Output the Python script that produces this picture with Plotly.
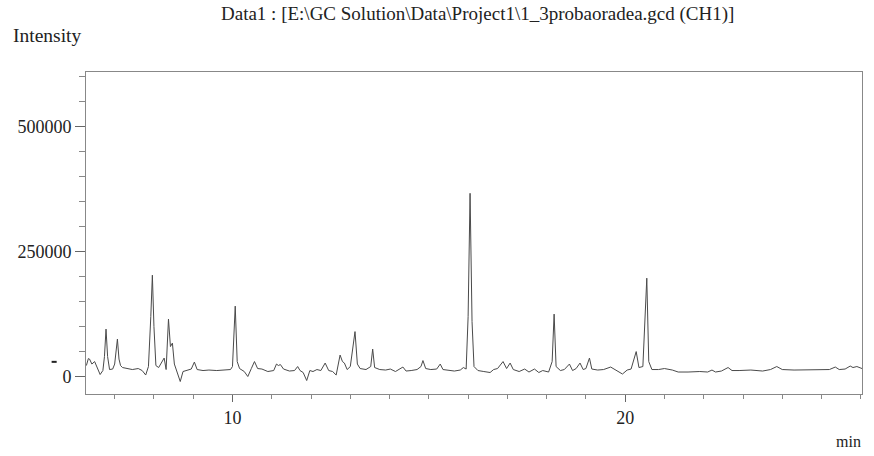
import plotly.graph_objects as go

# Retention time (min) and detector intensity
time_min = [6.28, 6.33, 6.36, 6.42, 6.49, 6.55, 6.63, 6.70, 6.74, 6.78, 6.82, 6.87, 6.95, 7.00, 7.07, 7.11,
            7.15, 7.20, 7.30, 7.45, 7.60, 7.70, 7.79, 7.86, 7.92, 7.96, 8.00, 8.05, 8.12, 8.20, 8.26, 8.31,
            8.37, 8.42, 8.47, 8.52, 8.60, 8.67, 8.74, 8.85, 8.95, 9.03, 9.10, 9.25, 9.40, 9.60, 9.80, 9.95,
            10.00, 10.07, 10.12, 10.18, 10.30, 10.39, 10.48, 10.56, 10.64, 10.75, 10.90, 11.05, 11.12, 11.17,
            11.22, 11.30, 11.45, 11.58, 11.66, 11.72, 11.80, 11.89, 11.97, 12.05, 12.15, 12.25, 12.36, 12.45,
            12.55, 12.64, 12.74, 12.80, 12.85, 12.92, 13.00, 13.12, 13.18, 13.25, 13.40, 13.52, 13.57, 13.62,
            13.75, 13.90, 14.02, 14.15, 14.34, 14.42, 14.55, 14.70, 14.80, 14.85, 14.92, 15.05, 15.20, 15.29,
            15.36, 15.50, 15.65, 15.80, 15.88, 15.95, 16.00, 16.05, 16.10, 16.15, 16.25, 16.40, 16.56, 16.65,
            16.75, 16.89, 16.98, 17.07, 17.15, 17.30, 17.44, 17.55, 17.69, 17.80, 17.90, 18.05, 18.14, 18.19,
            18.24, 18.35, 18.45, 18.58, 18.66, 18.75, 18.85, 18.93, 19.00, 19.09, 19.15, 19.30, 19.45, 19.63,
            19.75, 19.93, 20.05, 20.15, 20.28, 20.35, 20.45, 20.55, 20.60, 20.68, 20.85, 21.00, 21.20, 21.35,
            21.60, 21.90, 22.10, 22.21, 22.30, 22.45, 22.62, 22.72, 22.90, 23.20, 23.50, 23.70, 23.86, 24.00,
            24.30, 24.70, 25.00, 25.20, 25.35, 25.45, 25.60, 25.73, 25.80, 25.90, 26.03]

intensity = [22000, 36000, 35000, 25000, 30000, 20000, 4000, 12000, 40000, 95000, 40000, 14000, 15000, 25000, 75000, 35000,
             22000, 18000, 16000, 14000, 16000, 12000, 3000, 20000, 120000, 203000, 100000, 22000, 18000, 30000, 37000, 14000,
             115000, 60000, 67000, 25000, 5000, -10000, 10000, 13000, 15000, 29000, 14000, 12000, 13000, 12000, 13000, 14000,
             20000, 141000, 30000, 16000, 10000, 0, 16000, 30000, 16000, 15000, 10000, 12000, 25000, 22000,
             24000, 15000, 11000, 12000, 20000, 12000, 8000, -8000, 12000, 10000, 14000, 12000, 27000, 12000,
             10000, 3000, 43000, 30000, 27000, 14000, 20000, 90000, 25000, 16000, 14000, 20000, 55000, 18000,
             14000, 13000, 15000, 10000, 19000, 11000, 12000, 14000, 20000, 32000, 16000, 14000, 15000, 25000,
             14000, 12000, 11000, 13000, 18000, 15000, 120000, 367000, 110000, 20000, 12000, 10000, 8000, 14000,
             16000, 30000, 16000, 27000, 14000, 10000, 15000, 9000, 15000, 8000, 12000, 9000, 30000, 125000,
             20000, 12000, 14000, 25000, 12000, 16000, 27000, 14000, 16000, 37000, 15000, 13000, 14000, 19000,
             13000, 5000, 13000, 15000, 50000, 18000, 20000, 197000, 30000, 14000, 14000, 16000, 13000, 9000,
             9000, 10000, 9000, 13000, 9000, 11000, 18000, 12000, 12000, 13000, 11000, 14000, 20000, 14000,
             13000, 13000, 14000, 14000, 19000, 14000, 15000, 21000, 18000, 20000, 16000]

title_text = "Data1 : [E:\\GC Solution\\Data\\Project1\\1_3probaoradea.gcd (CH1)]"
y_label = "Intensity"
x_label = "min"
drift_marker_level = 29400  # small dash drawn left of the intensity axis

FONT = "Liberation Serif"

fig = go.Figure()
fig.add_trace(go.Scatter(x=time_min, y=intensity, mode="lines",
                         line=dict(color="#4a4a4a", width=1), hoverinfo="x+y",
                         showlegend=False))

fig.update_layout(
    width=874, height=456, autosize=False,
    margin=dict(l=86, r=12, t=72, b=62),
    paper_bgcolor="white", plot_bgcolor="white",
    font=dict(family=FONT, size=18, color="#222222"),
    annotations=[
        dict(text=title_text, xref="paper", yref="paper", x=0.505, y=1, yshift=58,
             xanchor="center", yanchor="middle", showarrow=False,
             font=dict(family=FONT, size=19, color="#222222")),
        dict(text=y_label, xref="paper", yref="paper", x=0, xshift=-39, y=1, yshift=37,
             xanchor="center", yanchor="middle", showarrow=False,
             font=dict(family=FONT, size=19.5, color="#222222")),
        dict(text=x_label, xref="paper", yref="paper", x=1, xshift=-14, y=0, yshift=-47,
             xanchor="center", yanchor="middle", showarrow=False,
             font=dict(family=FONT, size=16, color="#222222")),
    ],
    shapes=[
        dict(type="line", xref="paper", yref="y", x0=-0.0443, x1=-0.0378,
             y0=drift_marker_level, y1=drift_marker_level,
             line=dict(color="#222222", width=2)),
    ],
)

fig.update_xaxes(range=[6.27, 26.03], showgrid=False, zeroline=False,
                 showline=True, linecolor="#888888", linewidth=1, mirror=True,
                 ticks="outside", ticklen=7, tickcolor="#666666",
                 tick0=0, dtick=10,
                 minor=dict(dtick=1, ticks="outside", ticklen=4, tickcolor="#888888", showgrid=False),
                 tickfont=dict(family=FONT, size=18, color="#222222"))
fig.update_yaxes(range=[-35000, 610000], showgrid=False, zeroline=False,
                 showline=True, linecolor="#888888", linewidth=1, mirror=True,
                 ticks="outside", ticklen=10, tickcolor="#666666",
                 tick0=0, dtick=250000, tickformat="d",
                 minor=dict(dtick=50000, ticks="outside", ticklen=6, tickcolor="#888888", showgrid=False),
                 tickfont=dict(family=FONT, size=18, color="#222222"))

fig.write_html("out.html")
